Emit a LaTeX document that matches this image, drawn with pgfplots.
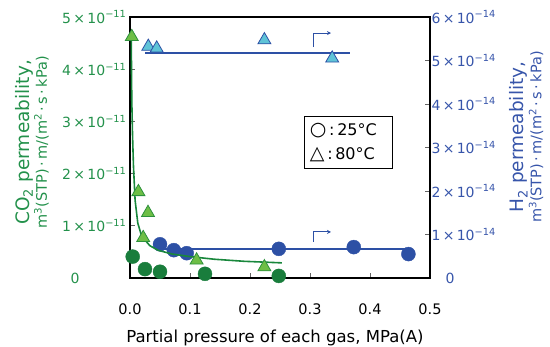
\documentclass[border=0pt]{standalone}
\usepackage{fontspec}
\setmainfont{DejaVu Sans}
\usepackage{pgfplots}
\pgfplotsset{compat=1.18}
\usetikzlibrary{arrows.meta}
\definecolor{glab}{RGB}{35,145,75}
\definecolor{gdark}{RGB}{25,125,60}
\definecolor{gcurve}{RGB}{25,135,60}
\definecolor{glight}{RGB}{110,190,70}
\definecolor{gedge}{RGB}{45,145,60}
\definecolor{bdark}{RGB}{45,80,165}
\definecolor{blab}{RGB}{55,85,170}
\definecolor{cyanf}{RGB}{95,195,215}
\definecolor{tickgray}{RGB}{100,100,100}
\newcommand{\tl}[2]{#1\,×\,10\textsuperscript{−#2}}
\begin{document}
\begin{tikzpicture}
% ---------------- H2 axis (right) ----------------
\begin{axis}[
  scale only axis, width=300pt, height=261pt,
  xmin=0, xmax=0.5, ymin=0, ymax=6,
  hide x axis,
  axis y line*=right,
  clip=false,
  tick align=inside,
  major tick length=5pt,
  ytick={0,1,2,3,4,5,6},
  yticklabels={\hspace*{14pt}0,\tl{1}{14},\tl{2}{14},\tl{3}{14},\tl{4}{14},\tl{5}{14},\tl{6}{14}},
  yticklabel style={anchor=west, text=blab, font=\fontsize{14}{16}\selectfont, xshift=-2pt},
  y axis line style={line width=1.2pt, black},
  ytick style={tickgray, line width=0.8pt},
  ylabel={\fontsize{18.5}{20}\selectfont H\textsubscript{2} permeability,\\[0pt]\fontsize{14.5}{16}\selectfont m\textsuperscript{3}(STP)\,·\,m/(m\textsuperscript{2}\,·\,s\,·\,kPa)},
  ylabel style={at={(axis description cs:1.322,0.54)}, anchor=center, align=center, text=blab},
]
\addplot[bdark, line width=1.3pt] coordinates {(0.025,5.17) (0.367,5.17)};
\addplot[bdark, line width=1.3pt] coordinates {(0.05,0.667) (0.464,0.667)};
\addplot[only marks, mark=*, mark size=7pt, mark options={fill=bdark, draw=bdark}] coordinates {
 (0.05,0.775) (0.073,0.64) (0.0945,0.57) (0.248,0.67) (0.373,0.71) (0.464,0.55)};
\addplot[only marks, mark=triangle*, mark size=7.5pt, mark options={fill=cyanf, draw=bdark, line width=0.8pt}] coordinates {
 (0.0305,5.32) (0.0445,5.28) (0.224,5.47) (0.337,5.05)};
\draw[bdark, line width=0.8pt, -{Stealth[length=4pt,width=4pt]}] (axis cs:0.305,5.31) -- (axis cs:0.305,5.63) -- (axis cs:0.335,5.63);
\draw[bdark, line width=0.8pt, -{Stealth[length=4pt,width=4pt]}] (axis cs:0.305,0.83) -- (axis cs:0.305,1.06) -- (axis cs:0.335,1.06);
\end{axis}
% ---------------- CO2 axis (left) ----------------
\begin{axis}[
  scale only axis, width=300pt, height=261pt,
  xmin=0, xmax=0.5, ymin=0, ymax=5,
  clip=false,
  axis line style={line width=1.2pt, black},
  tick align=inside,
  major tick length=5pt,
  xtick pos=lower, ytick pos=left,
  tick style={tickgray, line width=0.8pt},
  xtick={0,0.1,0.2,0.3,0.4,0.5},
  xticklabels={0.0,0.1,0.2,0.3,0.4,0.5},
  xticklabel style={font=\fontsize{14.5}{16}\selectfont, yshift=-22pt},
  ytick={0,1,2,3,4,5},
  yticklabels={0\hspace*{47pt},\tl{1}{11},\tl{2}{11},\tl{3}{11},\tl{4}{11},\tl{5}{11}},
  yticklabel style={text=glab, font=\fontsize{14}{16}\selectfont},
  xlabel={Partial pressure of each gas, MPa(A)},
  xlabel style={at={(axis description cs:0.483,-0.228)}, anchor=center, font=\fontsize{16.5}{19}\selectfont},
  ylabel={\fontsize{18.5}{20}\selectfont CO\textsubscript{2} permeability,\\[0pt]\fontsize{14.5}{16}\selectfont m\textsuperscript{3}(STP)\,·\,m/(m\textsuperscript{2}\,·\,s\,·\,kPa)},
  ylabel style={at={(axis description cs:-0.327,0.52)}, anchor=center, align=center, text=glab},
]
\addplot[gcurve, line width=1.6pt] coordinates {
 (0.0022,4.6) (0.0025,4.0) (0.003,3.4) (0.0042,2.75) (0.0058,2.14) (0.0085,1.49)
 (0.013,1.05) (0.0195,0.80) (0.033,0.62) (0.047,0.53) (0.07,0.46) (0.1,0.41)
 (0.14,0.36) (0.19,0.32) (0.253,0.29)};
\addplot[only marks, mark=*, mark size=7pt, mark options={fill=gdark, draw=gdark}] coordinates {
 (0.0045,0.41) (0.025,0.17) (0.05,0.12) (0.125,0.08) (0.248,0.04)};
\addplot[only marks, mark=triangle*, mark size=7.5pt, mark options={fill=glight, draw=gedge, line width=0.8pt}] coordinates {
 (0.003,4.62) (0.014,1.65) (0.03,1.25) (0.022,0.77) (0.111,0.34) (0.224,0.21)};
\node[draw, line width=0.7pt, align=left, minimum width=88pt, minimum height=52pt, text width=76pt, inner sep=4pt,
  font=\fontsize{16}{24}\selectfont] at (axis cs:0.3633,2.59) {\fontsize{19}{24}\selectfont○\fontsize{16}{24}\selectfont\,:\,25°C\\\fontsize{19}{24}\selectfont△\fontsize{16}{24}\selectfont\,:\,80°C};
\coordinate (SW) at (rel axis cs:0,0);
\coordinate (NE) at (rel axis cs:1,1);
\end{axis}
\path (SW) ++(-130pt,-69pt) coordinate (BA);
\path (NE) ++(120pt,17pt) coordinate (BB);
\pgfresetboundingbox
\useasboundingbox (BA) rectangle (BB);
\end{tikzpicture}
\end{document}
